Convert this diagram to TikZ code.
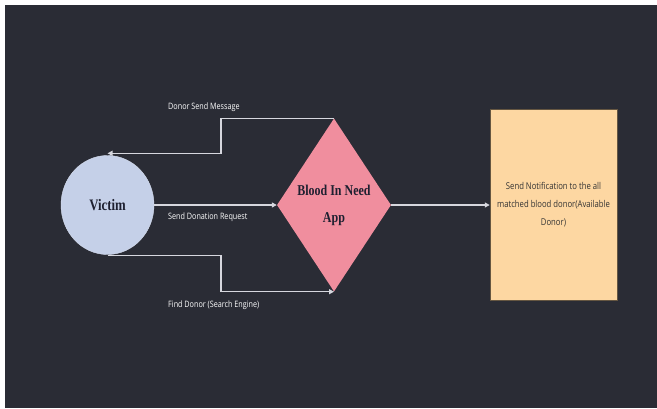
\documentclass[tikz,border=0pt]{standalone}
\usepackage{fontspec}
\setmainfont{Liberation Serif}
\newfontfamily\narrowserif[FakeStretch=0.8]{Liberation Serif}
\newfontfamily\labfont[FakeStretch=0.82]{Open Sans}
\usetikzlibrary{shapes.geometric,arrows.meta}
\definecolor{bgdark}{HTML}{2A2C35}
\definecolor{victimfill}{HTML}{C5D0E8}
\definecolor{appfill}{HTML}{F08E9E}
\definecolor{notiffill}{HTML}{FDD7A2}
\definecolor{linecol}{HTML}{D6D7DE}
\definecolor{darktext}{HTML}{1E2030}
\tikzset{
  conn/.style={draw=linecol, line width=1.3pt},
  arr/.style={conn, -{Triangle[length=5pt,width=5pt]}},
  lab/.style={text=white, font=\labfont\fontsize{8.8}{9}\selectfont, anchor=west, inner sep=0pt},
}
\begin{document}
\begin{tikzpicture}[x=1pt,y=-1pt]
  \useasboundingbox (0,0) rectangle (657,408);
  \fill[white] (0,0) rectangle (657,408);
  \fill[bgdark] (5,5) rectangle (657,408);

  \node[ellipse, fill=victimfill, draw=victimfill!70!white, line width=0.4pt,
        minimum width=93pt, minimum height=99pt, inner sep=0pt,
        text=darktext, font=\narrowserif\bfseries\fontsize{16}{18}\selectfont] (victim) at (107.5,205) {Victim};

  \node[diamond, fill=appfill, minimum width=114pt, minimum height=173pt, inner sep=0pt,
        aspect=0.66, text=darktext, align=center,
        font=\narrowserif\bfseries\fontsize{15}{27}\selectfont] (app) at (334,205) {Blood In Need\\App};

  \node[rectangle, fill=notiffill, draw=black!60!notiffill, line width=0.5pt,
        minimum width=127pt, minimum height=191pt, inner sep=0pt,
        text=black!80, align=center,
        font=\labfont\fontsize{9.4}{18}\selectfont] (notif) at (553.5,205)
        {Send Notification to the all\\matched blood donor(Available\\Donor)};

  \coordinate (bendx) at (221,0);

  % Donor Send Message
  \draw[arr] (app.north) -- (app.north -| bendx) -- ([yshift=2pt]victim.north -| bendx) -- ([yshift=2pt]victim.north);
  % Send Donation Request
  \draw[arr] (victim.east) -- (app.west);
  % Find Donor
  \draw[arr] ([yshift=-0.5pt]victim.south) -- ([yshift=-0.5pt]victim.south -| bendx) -- (app.south -| bendx) -- (app.south);
  % to notification
  \draw[arr] (app.east) -- (notif.west);

  \node[lab] (l1) at (168,107) {Donor Send Message};
  \node[lab] (l2) at (168,217) {Send Donation Request};
  \node[lab] (l3) at (168,305) {Find Donor (Search Engine)};
\end{tikzpicture}
\end{document}
